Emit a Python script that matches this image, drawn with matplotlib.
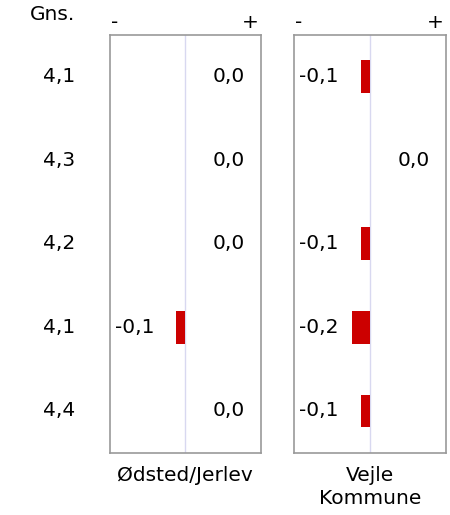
import matplotlib
matplotlib.use("Agg")
import matplotlib.pyplot as plt

gns = ['4,1', '4,3', '4,2', '4,1', '4,4']
panel_names = ['Ødsted/Jerlev', 'Vejle\nKommune']
odsted = [0.0, 0.0, 0.0, -0.1, 0.0]
vejle = [-0.1, 0.0, -0.1, -0.2, -0.1]
series = [odsted, vejle]

W, H = 450, 515
fig = plt.figure(figsize=(W / 100, H / 100), dpi=100)
plt.rcParams['font.family'] = ['DejaVu Sans']
FS = 14.5
RED = '#CC0000'
FRAME = '#999999'
CLINE = '#D8D8F0'

panel_left = [109.5, 294.3]
panel_w = 151.5
top, bottom = 34.7, 452.7
n = len(gns)
XL = 0.84

def fx(px):
    return px / W

def fy(py):
    return 1 - py / H

for pi, (vals, name) in enumerate(zip(series, panel_names)):
    ax = fig.add_axes([fx(panel_left[pi]), fy(bottom), panel_w / W, (bottom - top) / H])
    ax.set_xlim(-XL, XL)
    ax.set_ylim(n - 0.5, -0.5)
    ax.axvline(0, color=CLINE, lw=1, zorder=0)
    ys = list(range(n))
    ax.barh(ys, vals, height=0.39, color=RED, zorder=2)
    for y, v in zip(ys, vals):
        lab = f"{v:.1f}".replace('.', ',')
        if v < 0:
            ax.annotate(lab, xy=(0, y), xycoords=('axes fraction', 'data'),
                        xytext=(5, 0), textcoords='offset pixels',
                        ha='left', va='center', fontsize=FS)
        else:
            ax.annotate(lab, xy=(1, y), xycoords=('axes fraction', 'data'),
                        xytext=(-16, 0), textcoords='offset pixels',
                        ha='right', va='center', fontsize=FS)
    ax.set_xticks([])
    ax.set_yticks([])
    for s in ax.spines.values():
        s.set_color(FRAME)
        s.set_linewidth(1.2)
    # minus / plus markers above panel
    ax.annotate('-', xy=(0, 1), xycoords='axes fraction', xytext=(1, 12),
                textcoords='offset pixels', ha='left', va='center', fontsize=FS)
    ax.annotate('+', xy=(1, 1), xycoords='axes fraction', xytext=(-2, 12),
                textcoords='offset pixels', ha='right', va='center', fontsize=FS)
    ax.annotate(name, xy=(0.5, 0), xycoords='axes fraction', xytext=(0, -13),
                textcoords='offset pixels', ha='center', va='top',
                fontsize=FS, linespacing=1.3)

# Gns. column
fig.text(fx(75), fy(15), 'Gns.', ha='right', va='center', fontsize=FS)
row_h = (bottom - top) / n
for i, g in enumerate(gns):
    yc = top + row_h * (i + 0.5)
    fig.text(fx(75), fy(yc), g, ha='right', va='center', fontsize=FS)

fig.savefig('out.png', dpi=100, facecolor='white')
